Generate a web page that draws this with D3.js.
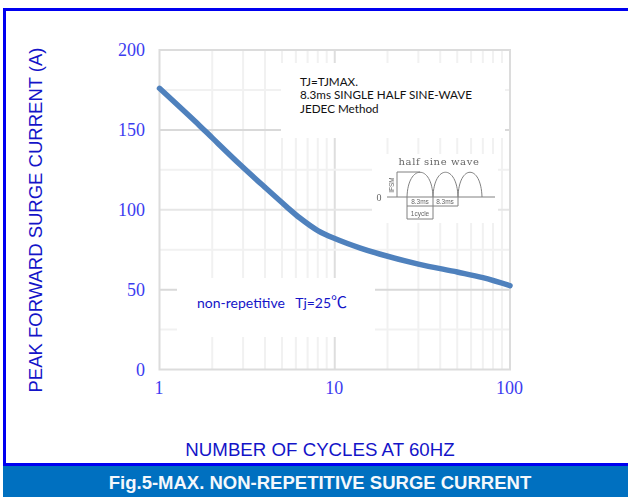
<!DOCTYPE html>
<html>
<head>
<meta charset="utf-8">
<script src="https://cdn.jsdelivr.net/npm/d3@7"></script>
<style>
	html, body { margin: 0; padding: 0; background: #fff; }
	svg { display: block; }
</style>
</head>
<body>
<div id="chart"></div>
<script>
// values
const cycles = [1, 1.7, 2, 2.9, 4, 5.3, 6.3, 8, 10, 14, 18, 30, 50, 70, 100];
const current = [176, 152.5, 145, 128, 114, 102, 95, 87, 82, 76, 72.3, 66, 61, 57.5, 52.5];

const xTickValues = [1, 10, 100];
const yTickValues = [0, 50, 100, 150, 200];
const yGridValues = [25, 50, 75, 100, 125, 150, 175];
const xGridValues = [2, 3, 4, 5, 6, 7, 8, 9, 10, 20, 30, 40, 50, 60, 70, 80, 90];

const noteLines = ["TJ=TJMAX.", "8.3ms SINGLE HALF SINE-WAVE", "JEDEC Method"];

const width = 628, height = 497;
const blue = "#0000f0";
const textBlue = "#1414c8";
const tickBlue = "#3c3cf0";

const svg = d3.select("#chart")
	.append("svg")
	.attr("width", width)
	.attr("height", height)
	.style("font-family", "'Liberation Sans', sans-serif");

// outer frame and the title band
svg.append("path")
	.attr("d", "M4.5,465V9.5H628")
	.attr("fill", "none")
	.attr("stroke", blue)
	.attr("stroke-width", 3);
svg.append("rect")
	.attr("x", 3).attr("y", 463)
	.attr("width", 625).attr("height", 3)
	.attr("fill", blue);
svg.append("rect")
	.attr("x", 3).attr("y", 466)
	.attr("width", 625).attr("height", 31)
	.attr("fill", "#0070c0");
svg.append("text")
	.attr("x", 320).attr("y", 489)
	.attr("text-anchor", "middle")
	.attr("fill", "#f4f8fc")
	.attr("font-size", 18.5)
	.attr("font-weight", "bold")
	.text("Fig.5-MAX. NON-REPETITIVE SURGE CURRENT");

let x = d3.scaleLog().domain([1, 100]).range([159.5, 510]);
let y = d3.scaleLinear().domain([0, 200]).range([369.5, 50]);

let hGridColor = d => {
	if (d === 100) return "#e6e6e6";
	return d % 50 === 0 ? "#d9d9d9" : "#f1f1f1";
};

// grid
let grid = svg.append("g");
grid.selectAll("line.v")
	.data(xGridValues)
	.enter().append("line")
	.attr("x1", x).attr("x2", x)
	.attr("y1", y(200)).attr("y2", y(0))
	.attr("stroke", d => d === 10 ? "#dedede" : "#f1f1f1")
	.attr("stroke-width", 2);
grid.selectAll("line.h")
	.data(yGridValues)
	.enter().append("line")
	.attr("x1", x(1)).attr("x2", x(100))
	.attr("y1", y).attr("y2", y)
	.attr("stroke", hGridColor)
	.attr("stroke-width", 2);
grid.append("rect")
	.attr("x", x(1)).attr("y", y(200))
	.attr("width", x(100) - x(1)).attr("height", y(0) - y(200))
	.attr("fill", "none")
	.attr("stroke", "#dcdcdc")
	.attr("stroke-width", 2);

// white boxes the annotations sit on
svg.append("rect").attr("x", 281).attr("y", 63).attr("width", 224).attr("height", 75).attr("fill", "#fff");
svg.append("rect").attr("x", 372).attr("y", 154).attr("width", 126).attr("height", 69).attr("fill", "#fff");
svg.append("rect").attr("x", 177).attr("y", 278).attr("width", 198).attr("height", 59).attr("fill", "#fff");

// axes
let xAxis = d3.axisBottom(x).tickValues(xTickValues).tickFormat(d3.format("d")).tickSize(0).tickPadding(0);
let yAxis = d3.axisLeft(y).tickValues(yTickValues).tickSize(0).tickPadding(0);

let gx = svg.append("g")
	.attr("transform", "translate(-1,381)")
	.call(xAxis);
let gy = svg.append("g")
	.attr("transform", "translate(145,0)")
	.call(yAxis);
[gx, gy].forEach(g => {
	g.select(".domain").remove();
	g.selectAll("text")
		.attr("fill", tickBlue)
		.style("font-family", "'Liberation Serif', serif")
		.style("font-size", "18px");
});

svg.append("text")
	.attr("x", 320).attr("y", 456)
	.attr("text-anchor", "middle")
	.attr("fill", textBlue)
	.attr("font-size", 18.7)
	.text("NUMBER OF CYCLES AT 60HZ");
svg.append("text")
	.attr("transform", "translate(42,220) rotate(-90)")
	.attr("text-anchor", "middle")
	.attr("fill", textBlue)
	.attr("font-size", 18.5)
	.text("PEAK FORWARD SURGE CURRENT (A)");

// curve
let line = d3.line()
	.x((d, i) => x(cycles[i]))
	.y(d => y(d))
	.curve(d3.curveCatmullRom.alpha(0.5));
svg.append("path")
	.attr("d", line(current))
	.attr("fill", "none")
	.attr("stroke", "#4f81bd")
	.attr("stroke-width", 5.5)
	.attr("stroke-linecap", "round");

// notes
svg.append("g")
	.selectAll("text")
	.data(noteLines)
	.enter().append("text")
	.attr("x", 300)
	.attr("y", (d, i) => 85.5 + i * 13.5)
	.attr("fill", "#111")
	.style("font-family", "Lato, sans-serif")
	.style("font-size", "11.7px")
	.text(d => d);

let tempNote = svg.append("text")
	.attr("x", 197).attr("y", 308)
	.attr("fill", textBlue)
	.style("font-family", "Lato, sans-serif")
	.style("font-size", "14px")
	.style("white-space", "pre");
tempNote.append("tspan").text("non-repetitive   Tj=25");
tempNote.append("tspan")
	.style("font-family", "'Noto Sans CJK SC', sans-serif")
	.style("font-size", "16px")
	.text("℃");

// half sine inset, the original is a small blurry picture
svg.append("filter").attr("id", "soft")
	.append("feGaussianBlur").attr("stdDeviation", 0.5);

let inset = svg.append("g")
	.attr("filter", "url(#soft)")
	.attr("fill", "none")
	.attr("stroke", "#808080")
	.attr("stroke-width", 1);

inset.append("path").attr("d", "M387,197H495");
inset.append("path")
	.attr("d", "M407,197C408,164 432,164 433,197C434,164 457,164 458,197C459,164 481,164 482,197");
inset.append("path").attr("d", "M420,172H397V197");
inset.append("path").attr("d", "M407,197V219M433,197V219M458,197V206M407,206H458M407,219H433");

let insetText = (str, px, py, size, family, extra) => inset.append("text")
	.attr("x", px).attr("y", py)
	.attr("text-anchor", "middle")
	.attr("fill", "#666")
	.attr("stroke", "none")
	.style("font-family", family)
	.style("font-size", size + "px")
	.attr("letter-spacing", extra || 0)
	.text(str);

insetText("half sine wave", 439, 165, 10, "'DejaVu Serif', serif", 0.6);
insetText("0", 379, 201, 10, "'Liberation Serif', serif");
insetText("8.3ms", 420, 204, 6.5, "'Liberation Sans', sans-serif");
insetText("8.3ms", 445, 204, 6.5, "'Liberation Sans', sans-serif");
insetText("1cycle", 420, 216, 6.5, "'Liberation Sans', sans-serif");
insetText("IFSM", 0, 0, 6.5, "'Liberation Sans', sans-serif")
	.attr("transform", "translate(394,185) rotate(-90)");
</script>
</body>
</html>
